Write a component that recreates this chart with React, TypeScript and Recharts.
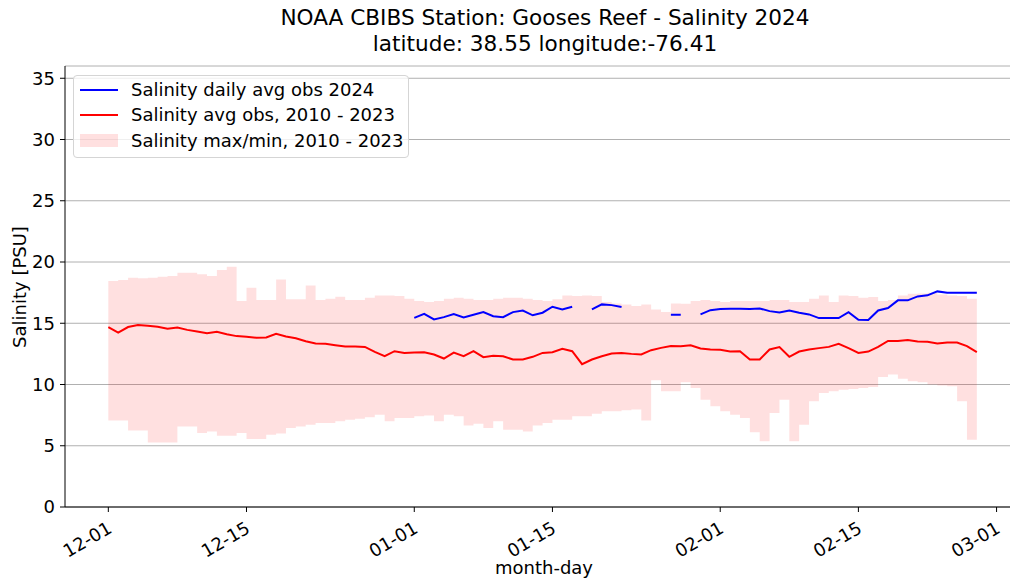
import { Area, CartesianGrid, ComposedChart, Line, XAxis, YAxis } from "recharts";

// day 0 = 12-01, one value per day through 02-27
const avgObs = [
  14.69, 14.24, 14.69, 14.85, 14.79, 14.71, 14.55, 14.66, 14.46, 14.33,
  14.19, 14.3, 14.11, 13.95, 13.89, 13.81, 13.84, 14.14, 13.92, 13.78,
  13.53, 13.35, 13.32, 13.21, 13.1, 13.1, 13.07, 12.66, 12.31, 12.72,
  12.58, 12.61, 12.64, 12.45, 12.12, 12.61, 12.31, 12.72, 12.23, 12.34,
  12.31, 12.04, 12.04, 12.26, 12.58, 12.64, 12.91, 12.72, 11.66, 12.04,
  12.31, 12.53, 12.58, 12.5, 12.45, 12.8, 12.99, 13.15, 13.13, 13.21,
  12.94, 12.86, 12.83, 12.69, 12.72, 12.04, 12.04, 12.86, 13.05, 12.26,
  12.69, 12.86, 12.97, 13.07, 13.32, 12.97, 12.58, 12.69, 13.07, 13.56,
  13.56, 13.64, 13.51, 13.48, 13.35, 13.43, 13.43, 13.13, 12.64
];

const obs2024 = [
  null, null, null, null, null, null, null, null, null, null,
  null, null, null, null, null, null, null, null, null, null,
  null, null, null, null, null, null, null, null, null, null,
  null, 15.44, 15.77, 15.31, 15.5, 15.75, 15.47, 15.69, 15.91, 15.58,
  15.5, 15.91, 16.04, 15.65, 15.86, 16.35, 16.13, 16.35, null, 16.13,
  16.54, 16.48, 16.32, null, null, null, null, 15.69, 15.69, null,
  15.72, 16.07, 16.16, 16.18, 16.18, 16.16, 16.21, 15.99, 15.88, 16.04,
  15.86, 15.72, 15.42, 15.42, 15.42, 15.91, 15.28, 15.26, 16.04, 16.24,
  16.87, 16.87, 17.19, 17.28, 17.6, 17.49, 17.49, 17.49, 17.49
];

const maxObs = [
  18.45, 18.53, 18.72, 18.67, 18.72, 18.8, 18.86, 19.13, 19.13, 18.99,
  18.86, 19.35, 19.62, 16.81, 17.9, 16.89, 16.89, 18.58, 16.95, 16.95,
  18.09, 16.89, 17.0, 17.17, 16.89, 16.89, 17.08, 17.27, 17.27, 17.22,
  17.0, 16.81, 16.73, 16.81, 17.0, 17.08, 17.0, 16.89, 16.89, 17.0,
  17.08, 17.08, 17.0, 16.89, 16.81, 16.95, 17.27, 17.22, 17.27, 17.22,
  16.73, 16.62, 16.54, 16.4, 16.54, 16.13, 15.91, 16.62, 16.59, 16.81,
  16.89, 16.81, 16.73, 16.81, 16.81, 16.81, 16.81, 16.89, 16.89, 16.73,
  16.73, 17.0, 17.27, 16.73, 17.27, 17.22, 17.08, 17.14, 16.81, 16.89,
  17.27, 17.41, 17.43, 17.49, 17.35, 17.27, 17.22, 17.0, 17.0
];

const minObs = [
  7.07, 7.07, 6.25, 6.25, 5.27, 5.27, 5.27, 6.58, 6.58, 6.04,
  6.17, 5.82, 5.82, 6.04, 5.55, 5.55, 5.9, 5.99, 6.45, 6.58,
  6.72, 6.85, 6.85, 6.99, 7.13, 7.21, 7.32, 7.54, 6.99, 7.26,
  7.26, 7.4, 7.46, 6.99, 7.54, 7.4, 6.66, 6.8, 6.45, 6.99,
  6.31, 6.31, 6.17, 6.66, 6.85, 7.13, 7.13, 7.4, 7.4, 7.62,
  7.81, 7.81, 7.89, 7.95, 7.07, 10.34, 9.44, 9.44, 10.18, 9.72,
  8.76, 8.22, 7.81, 7.54, 7.26, 6.1, 5.36, 7.67, 8.76, 5.36,
  6.72, 8.63, 9.31, 9.44, 9.58, 9.63, 9.72, 9.8, 10.62, 10.81,
  10.46, 10.27, 10.18, 9.99, 9.91, 9.85, 8.63, 5.49, 5.49
];

const tickDays = [0, 14, 31, 45, 62, 76, 90];
const tickLabels = ["12-01", "12-15", "01-01", "01-15", "02-01", "02-15", "03-01"];
const yTicks = [0, 5, 10, 15, 20, 25, 30, 35];

const data = avgObs.map((v, i) => ({
  day: i,
  avg: v,
  obs: obs2024[i],
  range: [minObs[i], maxObs[i]]
}));

const font = "'DejaVu Sans', sans-serif";

function XTick({ x, y, payload }: any) {
  const label = tickLabels[tickDays.indexOf(payload.value)];
  const tx = x - 2;
  const ty = y + 3;
  return (
    <text
      x={tx}
      y={ty}
      transform={`rotate(-30 ${tx} ${ty})`}
      textAnchor="end"
      dominantBaseline="hanging"
      fontSize={18}
      fontFamily={font}
      fill="#000"
    >
      {label}
    </text>
  );
}

export default function App() {
  return (
    <div style={{ position: "absolute", left: 0, top: 0, width: 1011, height: 581, background: "#fff", fontFamily: font }}>
      <ComposedChart width={1011} height={581} data={data} margin={{ top: 66, right: 1, bottom: 0, left: 0 }}>
        <CartesianGrid vertical={false} stroke="#b0b0b0" strokeWidth={1} />
        <XAxis
          dataKey="day"
          type="number"
          domain={[-4.39, 91.36]}
          allowDataOverflow
          ticks={tickDays}
          tick={<XTick />}
          tickSize={5}
          tickMargin={5}
          height={74}
          stroke="#000"
          interval={0}
        />
        <XAxis xAxisId="top" orientation="top" type="number" domain={[-4.39, 91.36]} tick={false} tickLine={false} height={0} stroke="#000" />
        <YAxis
          type="number"
          domain={[0, 36]}
          ticks={yTicks}
          allowDataOverflow
          width={65}
          tickSize={5}
          tickMargin={5}
          stroke="#000"
          tick={{ fill: "#000", fontSize: 18, fontFamily: font }}
          interval={0}
        />
        <YAxis yAxisId="right" orientation="right" domain={[0, 36]} tick={false} tickLine={false} width={0} stroke="#000" />
        <Area
          dataKey="range"
          type="stepAfter"
          fill="#ff0000"
          fillOpacity={0.12}
          stroke="none"
          isAnimationActive={false}
        />
        <Line dataKey="avg" type="linear" stroke="#ff0000" strokeWidth={2} dot={false} isAnimationActive={false} />
        <Line dataKey="obs" type="linear" stroke="#0000ff" strokeWidth={2} dot={false} isAnimationActive={false} />
      </ComposedChart>

      <div style={{ position: "absolute", left: 0, top: 5, width: 1090, textAlign: "center", fontSize: 21.6, lineHeight: "26px", color: "#000" }}>
        NOAA CBIBS Station: Gooses Reef - Salinity 2024
        <br />
        latitude: 38.55 longitude:-76.41
      </div>

      <div style={{ position: "absolute", left: 19, top: 287, transform: "translate(-50%, -50%) rotate(-90deg)", fontSize: 18, whiteSpace: "nowrap" }}>
        Salinity [PSU]
      </div>
      <div style={{ position: "absolute", left: 544, top: 567, transform: "translate(-50%, -50%)", fontSize: 18, whiteSpace: "nowrap" }}>
        month-day
      </div>

      <div
        style={{
          position: "absolute",
          left: 73,
          top: 75,
          width: 336,
          height: 83,
          boxSizing: "border-box",
          border: "1px solid #d5d5d5",
          borderRadius: 4,
          background: "rgba(255,255,255,0.8)",
          fontSize: 18
        }}
      >
        {[
          { label: "Salinity daily avg obs 2024", color: "#0000ff", patch: false, cy: 14 },
          { label: "Salinity avg obs, 2010 - 2023", color: "#ff0000", patch: false, cy: 39 },
          { label: "Salinity max/min, 2010 - 2023", color: "rgba(255,0,0,0.12)", patch: true, cy: 65 }
        ].map((e) => (
          <div key={e.label} style={{ position: "absolute", left: 0, top: e.cy, height: 0 }}>
            <div
              style={{
                position: "absolute",
                left: 6,
                width: 38,
                top: e.patch ? -7 : -1,
                height: e.patch ? 13 : 2,
                background: e.color
              }}
            />
            <div style={{ position: "absolute", left: 57, top: -11, lineHeight: "22px", whiteSpace: "nowrap" }}>{e.label}</div>
          </div>
        ))}
      </div>
    </div>
  );
}
